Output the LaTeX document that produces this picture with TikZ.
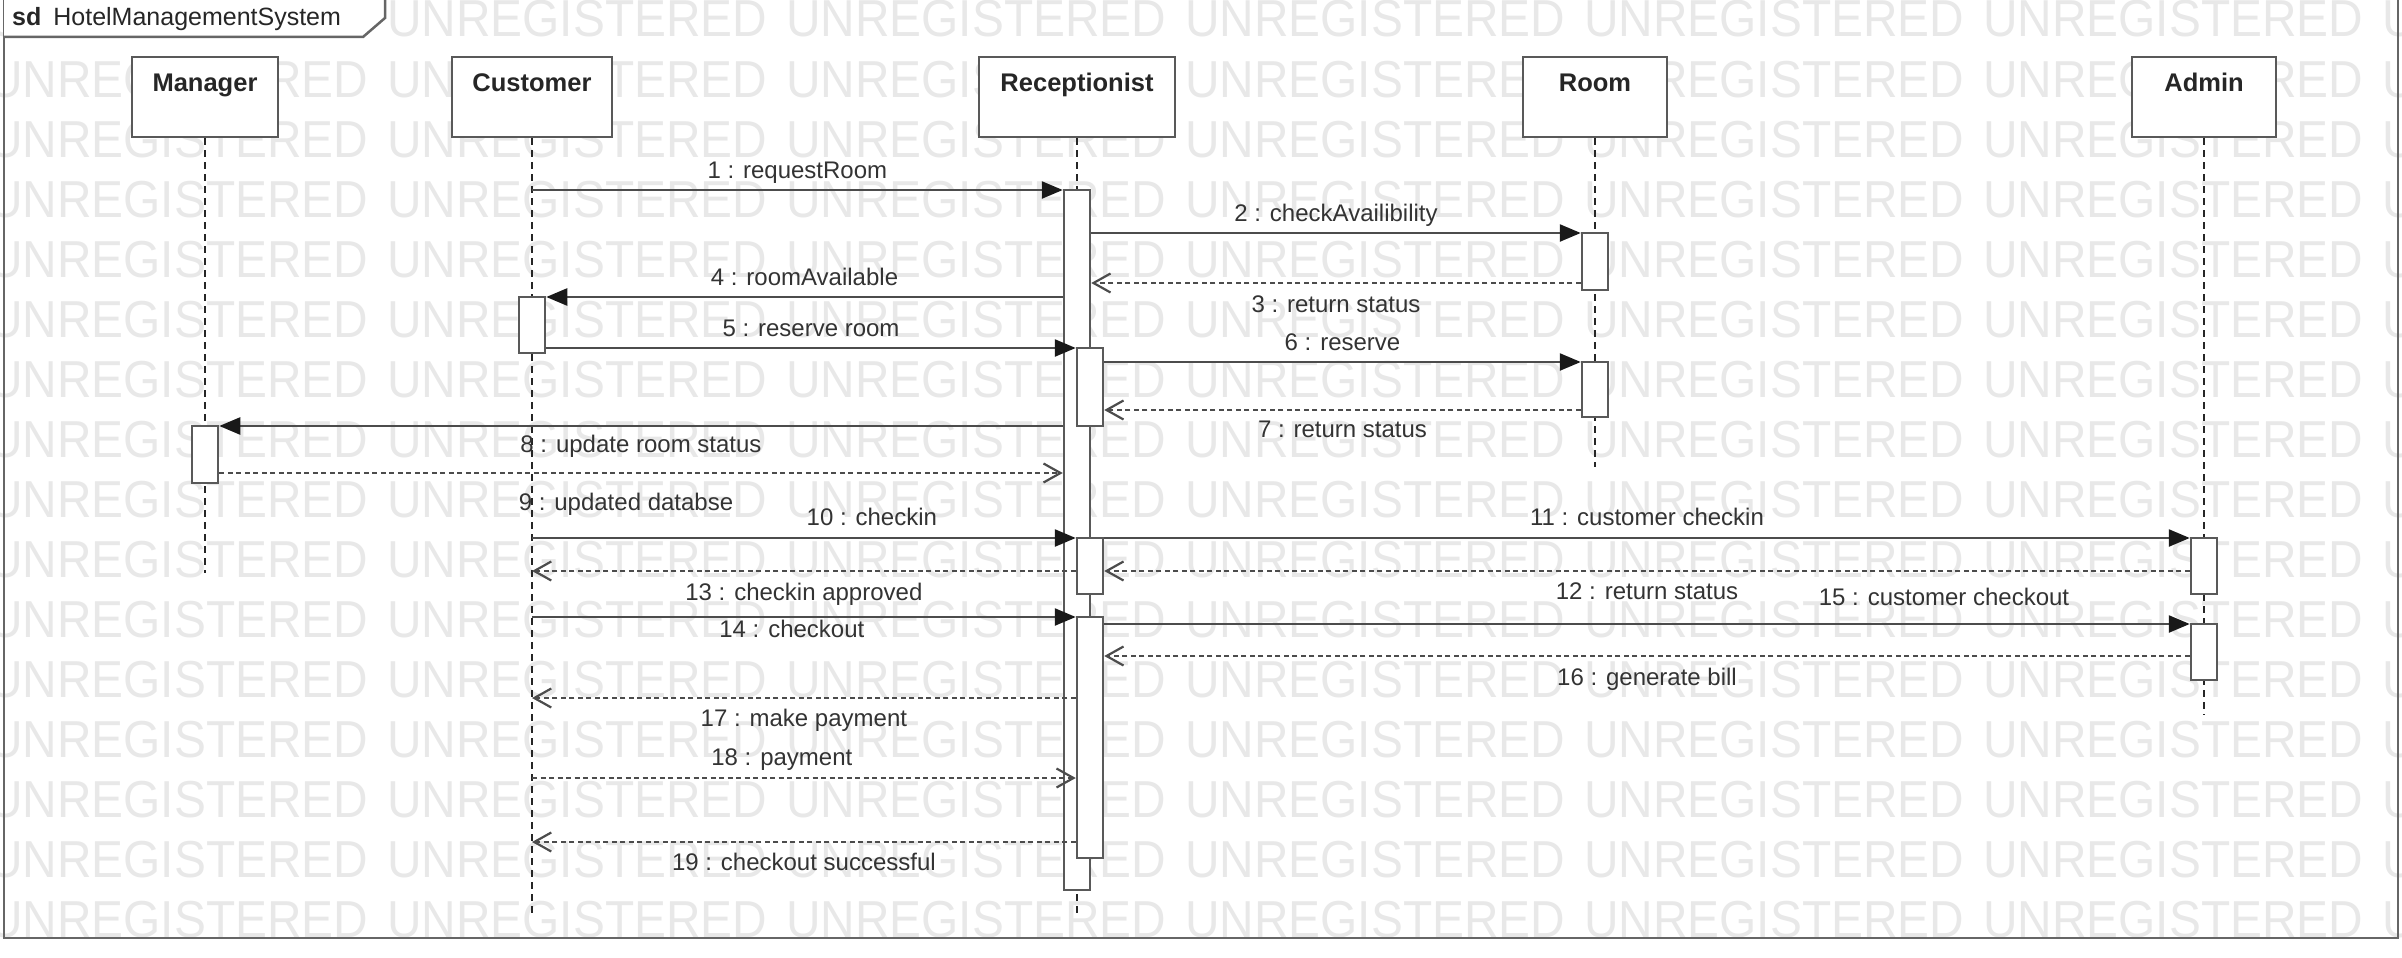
\documentclass[tikz,border=0pt]{standalone}
\usepackage{fontspec}
\setmainfont{Liberation Sans}
\usetikzlibrary{arrows.meta}

\tikzset{
  head/.style={draw=black!65, fill=white, line width=2.5pt, inner xsep=0pt, inner ysep=0pt,
    text height=35pt, text depth=45pt, font=\fontsize{25.5}{30}\selectfont\bfseries, text=black!85},
  act/.style={draw=black!65, fill=white, line width=2.5pt, minimum width=26pt, inner sep=0pt},
  life/.style={draw=black!85, line width=1.8pt, dash pattern=on 7pt off 5pt},
  syncmsg/.style={draw=black!70, line width=2.5pt, -{Triangle[length=21pt,width=17pt,color=black!90]}},
  retmsg/.style={draw=black!70, line width=2.2pt, dash pattern=on 5pt off 3.5pt,
    -{Straight Barb[length=17pt,width=19pt]}},
  lbl/.style={font=\fontsize{24}{28}\selectfont, text=black!80, anchor=base, inner sep=0pt},
  wmark/.style={font=\fontsize{52}{60}\selectfont, text=black!9, anchor=base west, inner sep=0pt, xscale=0.92},
  frame/.style={draw=black!60, line width=2.5pt}
}

\begin{document}
\begin{tikzpicture}[x=1pt, y=-1pt]
    \useasboundingbox (0,0) rectangle (2402,958);
    \clip (0,0) rectangle (2402,958);

    % watermark
    \foreach \r in {0,...,15}{
        \foreach \c in {0,...,6}{
            \node[wmark] (wm-\r-\c) at (-12+399*\c, 37+60*\r) {UNREGISTERED};
        }
    }

    % frame
    \draw[frame] (4,-3) rectangle (2398,938);
    \draw[frame, fill=white] (4,-3) -- (385,-3) -- (385,18) -- (363,37) -- (4,37);
    \node[anchor=base west, font=\fontsize{25}{30}\selectfont, text=black!85, inner sep=0pt] (sdname) at (12,26) {\textbf{sd}\hspace{12pt}HotelManagementSystem};

    % lifelines
    \node[head, minimum width=146pt] (hManager) at (205,97) {Manager};
    \node[head, minimum width=160pt] (hCustomer) at (532,97) {Customer};
    \node[head, minimum width=196pt] (hReceptionist) at (1077,97) {Receptionist};
    \node[head, minimum width=144pt] (hRoom) at (1595,97) {Room};
    \node[head, minimum width=144pt] (hAdmin) at (2204,97) {Admin};

    \draw[life] (hManager.south) -- (hManager |- 0,573);
    \draw[life] (hCustomer.south) -- (hCustomer |- 0,913);
    \draw[life] (hReceptionist.south) -- (hReceptionist |- 0,913);
    \draw[life] (hRoom.south) -- (hRoom |- 0,467);
    \draw[life] (hAdmin.south) -- (hAdmin |- 0,715);

    % activations
    \node[act, minimum height=700pt] (aR1) at (1077,540) {};
    \node[act, minimum height=57pt] (aRo1) at (1595,261.5) {};
    \node[act, minimum height=56pt] (aC1) at (532,325) {};
    \node[act, minimum height=78pt] (aR2) at (1090,387) {};
    \node[act, minimum height=55pt] (aRo2) at (1595,389.5) {};
    \node[act, minimum height=57pt] (aM1) at (205,454.5) {};
    \node[act, minimum height=56pt] (aR3) at (1090,566) {};
    \node[act, minimum height=56pt] (aA1) at (2204,566) {};
    \node[act, minimum height=241pt] (aR4) at (1090,737.5) {};
    \node[act, minimum height=56pt] (aA2) at (2204,652) {};

    % messages
    \draw[syncmsg] (hCustomer |- 0,190) -- node[lbl, yshift=12pt] (t1) {1 : requestRoom} (aR1.west |- 0,190);
    \draw[syncmsg] (aR1.east |- 0,233) -- node[lbl, yshift=12pt] (t2) {2 : checkAvailibility} (aRo1.west |- 0,233);
    \draw[retmsg] (aRo1.west |- 0,283) -- node[lbl, yshift=-29pt] (t3) {3 : return status} (aR1.east |- 0,283);
    \draw[syncmsg] (aR1.west |- 0,297) -- node[lbl, yshift=12pt] (t4) {4 : roomAvailable} (aC1.east |- 0,297);
    \draw[syncmsg] (aC1.east |- 0,348) -- node[lbl, yshift=12pt] (t5) {5 : reserve room} (aR2.west |- 0,348);
    \draw[syncmsg] (aR2.east |- 0,362) -- node[lbl, yshift=12pt] (t6) {6 : reserve} (aRo2.west |- 0,362);
    \draw[retmsg] (aRo2.west |- 0,410) -- node[lbl, yshift=-27pt] (t7) {7 : return status} (aR2.east |- 0,410);
    \draw[syncmsg] (aR1.west |- 0,426) -- node[lbl, yshift=-26pt] (t8) {8 : update room status} (aM1.east |- 0,426);
    \draw[retmsg] (aM1.east |- 0,473) -- node[lbl, yshift=-37pt, xshift=-15pt] (t9) {9 : updated databse} (aR1.west |- 0,473);
    \draw[syncmsg] (hCustomer |- 0,538) -- node[lbl, yshift=13pt, xshift=68pt] (t10) {10 : checkin} (aR3.west |- 0,538);
    \draw[syncmsg] (aR3.east |- 0,538) -- node[lbl, yshift=13pt] (t11) {11 : customer checkin} (aA1.west |- 0,538);
    \draw[retmsg] (aA1.west |- 0,571) -- node[lbl, yshift=-28pt] (t12) {12 : return status} (aR3.east |- 0,571);
    \draw[retmsg] (aR3.west |- 0,571) -- node[lbl, yshift=-29pt] (t13) {13 : checkin approved} (hCustomer |- 0,571);
    \draw[syncmsg] (hCustomer |- 0,617) -- node[lbl, yshift=-20pt, xshift=-12pt] (t14) {14 : checkout} (aR4.west |- 0,617);
    \draw[syncmsg] (aR4.east |- 0,624) -- node[lbl, yshift=19pt, xshift=297pt] (t15) {15 : customer checkout} (aA2.west |- 0,624);
    \draw[retmsg] (aA2.west |- 0,656) -- node[lbl, yshift=-29pt] (t16) {16 : generate bill} (aR4.east |- 0,656);
    \draw[retmsg] (aR4.west |- 0,698) -- node[lbl, yshift=-28pt] (t17) {17 : make payment} (hCustomer |- 0,698);
    \draw[retmsg] (hCustomer |- 0,778) -- node[lbl, yshift=13pt, xshift=-22pt] (t18) {18 : payment} (aR4.west |- 0,778);
    \draw[retmsg] (aR4.west |- 0,842) -- node[lbl, yshift=-28pt] (t19) {19 : checkout successful} (hCustomer |- 0,842);
\end{tikzpicture}
\end{document}
